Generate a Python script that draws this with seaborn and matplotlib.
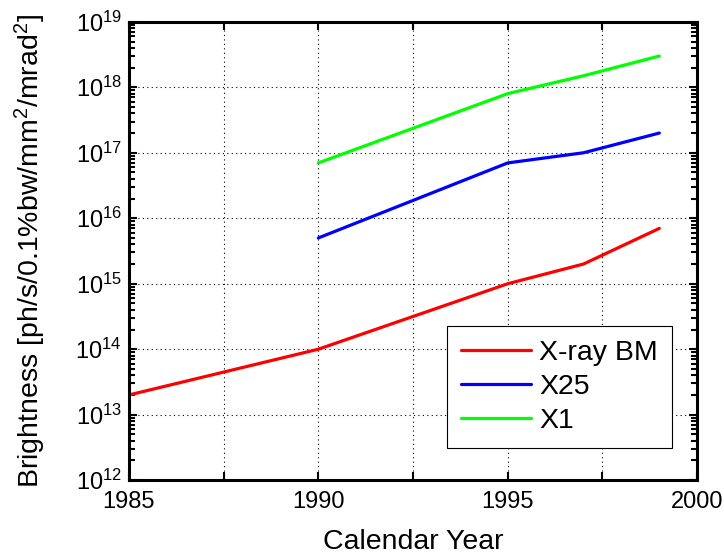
import matplotlib
matplotlib.use("Agg")
import matplotlib.pyplot as plt
import matplotlib.ticker as mticker
import numpy as np
import pandas as pd
import seaborn as sns

# Brightness history of the light source beamlines
bm_years = [1985, 1990, 1995, 1997, 1999]
bm_values = [2e13, 1e14, 1e15, 2e15, 7e15]

x25_years = [1990, 1995, 1997, 1999]
x25_values = [5e15, 7e16, 1e17, 2e17]

x1_years = [1990, 1995, 1997, 1999]
x1_values = [7e16, 8e17, 1.5e18, 3e18]

series_names = ["X-ray BM", "X25", "X1"]
series_colors = ["#ff0000", "#0000ff", "#00ff00"]

x_major_ticks = [1985, 1990, 1995, 2000]
x_minor_ticks = [1987.5, 1992.5, 1997.5]
y_decades = [12, 13, 14, 15, 16, 17, 18, 19]

df = pd.concat([
    pd.DataFrame({"year": bm_years, "brightness": bm_values, "source": series_names[0]}),
    pd.DataFrame({"year": x25_years, "brightness": x25_values, "source": series_names[1]}),
    pd.DataFrame({"year": x1_years, "brightness": x1_values, "source": series_names[2]}),
])

sns.set_style("ticks")
plt.rcParams["font.family"] = ["Liberation Sans", "DejaVu Sans"]
plt.rcParams["mathtext.fontset"] = "custom"
plt.rcParams["mathtext.rm"] = "Liberation Sans"
plt.rcParams["mathtext.it"] = "Liberation Sans:italic"
plt.rcParams["mathtext.bf"] = "Liberation Sans:bold"
for key in ["text.color", "axes.labelcolor", "xtick.color", "ytick.color",
            "xtick.labelcolor", "ytick.labelcolor"]:
    plt.rcParams[key] = "black"

fig = plt.figure(figsize=(7.24, 5.59), dpi=100)
ax = fig.add_axes([0.178, 0.141, 0.785, 0.820])

sns.lineplot(data=df, x="year", y="brightness", hue="source",
             hue_order=series_names, palette=series_colors,
             linewidth=2.3, ax=ax, estimator=None, sort=False)

ax.set_yscale("log")
ax.set_xlim(x_major_ticks[0], x_major_ticks[-1])
ax.set_ylim(10.0 ** y_decades[0], 10.0 ** y_decades[-1])
ax.xaxis.set_major_locator(mticker.FixedLocator(x_major_ticks))
ax.xaxis.set_minor_locator(mticker.FixedLocator(x_minor_ticks))
ax.xaxis.set_major_formatter(mticker.FormatStrFormatter("%d"))
ax.yaxis.set_major_locator(mticker.FixedLocator([10.0 ** d for d in y_decades]))
ax.yaxis.set_major_formatter(mticker.LogFormatterMathtext())
ax.yaxis.set_minor_locator(mticker.LogLocator(base=10, subs=np.arange(2, 10), numticks=20))
ax.yaxis.set_minor_formatter(mticker.NullFormatter())

grid_style = dict(color="black", linestyle=(0, (1, 3)), linewidth=0.8)
ax.grid(True, which="major", **grid_style)
ax.xaxis.grid(True, which="minor", **grid_style)
ax.tick_params(which="both", direction="in", top=True, right=True,
               labelsize=17, width=1.5, color="black")
ax.tick_params(axis="x", which="both", pad=8, length=6)
ax.tick_params(axis="y", pad=5)
ax.tick_params(axis="y", which="major", length=6)
ax.tick_params(axis="y", which="minor", length=4)
for s in ax.spines.values():
    s.set_linewidth(2.2)
    s.set_color("black")

ax.set_xlabel("Calendar Year", fontsize=20.5, labelpad=11)
ax.set_ylabel("Brightness [ph/s/0.1%bw/mm$^2$/mrad$^2$]", fontsize=20.5, labelpad=20)

leg = ax.legend(loc="lower right", bbox_to_anchor=(0.956, 0.070), borderaxespad=0,
                fontsize=20.5, frameon=True, fancybox=False, framealpha=1,
                edgecolor="black", handlelength=2.45, borderpad=0.5,
                labelspacing=0.28, handletextpad=0.3)
leg.get_frame().set_linewidth(0.8)

fig.savefig("out.png", dpi=100)
